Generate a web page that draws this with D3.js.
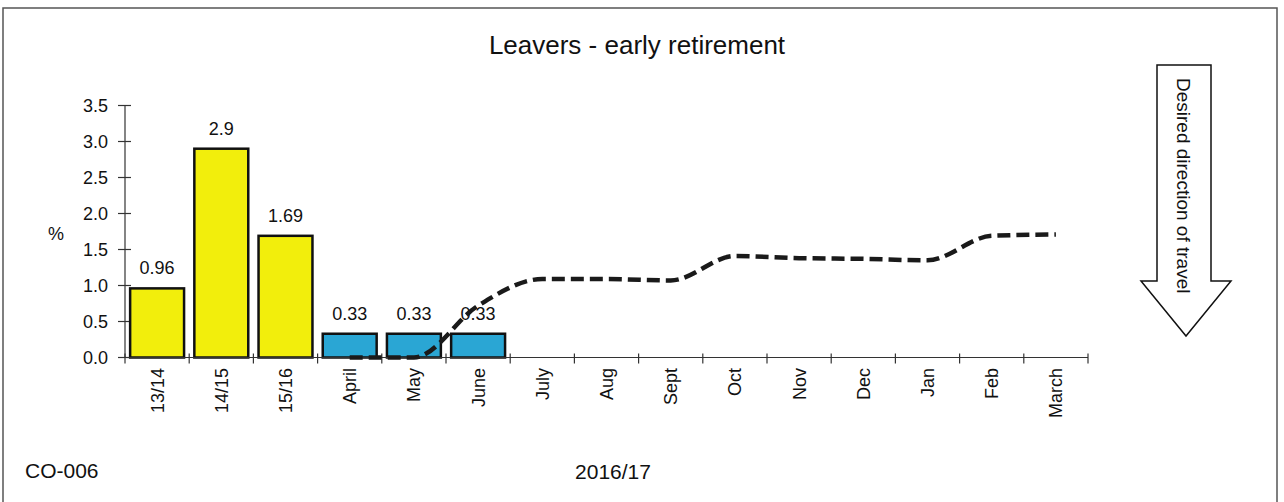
<!DOCTYPE html>
<html>
<head>
<meta charset="utf-8">
<script src="https://cdn.jsdelivr.net/npm/d3@7"></script>
<style>
  html, body { margin: 0; padding: 0; background: #fff; }
  svg { display: block; font-family: "Liberation Sans", Arial, sans-serif; }
</style>
</head>
<body>
<svg id="chart" width="1284" height="502"></svg>
<script>
// Categories along the x axis: three prior years, then the months of 2016/17
const categories = ["13/14", "14/15", "15/16", "April", "May", "June", "July", "Aug",
                    "Sept", "Oct", "Nov", "Dec", "Jan", "Feb", "March"];

// Actual early-retirement leavers (%)
const yearBars = [
  { cat: "13/14", value: 0.96 },
  { cat: "14/15", value: 2.9 },
  { cat: "15/16", value: 1.69 }
];
const monthBars = [
  { cat: "April", value: 0.33 },
  { cat: "May", value: 0.33 },
  { cat: "June", value: 0.33 }
];

// Comparison line (dashed), monthly
const lineMonths = ["April", "May", "June", "July", "Aug", "Sept", "Oct", "Nov", "Dec", "Jan", "Feb", "March"];
const lineValues = [0, 0, 0.72, 1.09, 1.09, 1.07, 1.41, 1.38, 1.37, 1.35, 1.69, 1.71];

const yTicks = [0, 0.5, 1.0, 1.5, 2.0, 2.5, 3.0, 3.5];

const svg = d3.select("#chart");

// Page frame
svg.append("path")
  .attr("d", "M3,520 L3,8 L1277,8 L1277,520")
  .attr("fill", "none")
  .attr("stroke", "#555")
  .attr("stroke-width", 1.5);

const x = d3.scaleBand().domain(categories).range([125, 1088]).paddingInner(0.16).paddingOuter(0.08);
const y = d3.scaleLinear().domain([0, 3.5]).range([357.5, 105.5]);
const bandStep = x.step();
const axisLeft = 125, axisRight = 1088;

// Title
svg.append("text")
  .attr("x", 637).attr("y", 54)
  .attr("text-anchor", "middle")
  .attr("font-size", 26)
  .attr("fill", "#111")
  .text("Leavers - early retirement");

// Y axis
const yAxis = svg.append("g");
yAxis.append("line")
  .attr("x1", axisLeft).attr("x2", axisLeft)
  .attr("y1", y(3.5)).attr("y2", y(0))
  .attr("stroke", "#333").attr("stroke-width", 1.2);
yAxis.selectAll("line.tick").data(yTicks).join("line")
  .attr("class", "tick")
  .attr("x1", axisLeft - 7).attr("x2", axisLeft + 6)
  .attr("y1", d => y(d)).attr("y2", d => y(d))
  .attr("stroke", "#333").attr("stroke-width", 1.2);
yAxis.selectAll("text").data(yTicks).join("text")
  .attr("x", 108).attr("y", d => y(d))
  .attr("dy", "0.36em")
  .attr("text-anchor", "end")
  .attr("font-size", 18)
  .attr("fill", "#111")
  .text(d => d3.format(".1f")(d));

svg.append("text")
  .attr("x", 56).attr("y", 240)
  .attr("text-anchor", "middle")
  .attr("font-size", 18)
  .attr("fill", "#111")
  .text("%");

// Bars
function drawBars(data, fill) {
  const g = svg.append("g");
  g.selectAll("rect").data(data).join("rect")
    .attr("x", d => x(d.cat))
    .attr("y", d => y(d.value))
    .attr("width", x.bandwidth())
    .attr("height", d => y(0) - y(d.value))
    .attr("fill", fill)
    .attr("stroke", "#111")
    .attr("stroke-width", 2.5);
  g.selectAll("text").data(data).join("text")
    .attr("x", d => x(d.cat) + x.bandwidth() / 2)
    .attr("y", d => y(d.value) - 14)
    .attr("text-anchor", "middle")
    .attr("font-size", 18)
    .attr("fill", "#111")
    .text(d => d.value);
}
drawBars(yearBars, "#f2ee0c");
drawBars(monthBars, "#2aa6d4");

// X axis
const xAxis = svg.append("g");
xAxis.append("line")
  .attr("x1", axisLeft).attr("x2", axisRight)
  .attr("y1", y(0)).attr("y2", y(0))
  .attr("stroke", "#333").attr("stroke-width", 1.2);
const boundaries = d3.range(categories.length + 1).map(i => axisLeft + i * bandStep);
xAxis.selectAll("line.tick").data(boundaries).join("line")
  .attr("class", "tick")
  .attr("x1", d => d).attr("x2", d => d)
  .attr("y1", y(0) - 4).attr("y2", y(0) + 6)
  .attr("stroke", "#333").attr("stroke-width", 1.2);
xAxis.selectAll("text").data(categories).join("text")
  .attr("transform", d => `translate(${x(d) + x.bandwidth() / 2},368) rotate(-90)`)
  .attr("dy", "0.36em")
  .attr("text-anchor", "end")
  .attr("font-size", 18)
  .attr("fill", "#111")
  .text(d => d);

// Dashed comparison line
const line = d3.line()
  .x((d, i) => x(lineMonths[i]) + x.bandwidth() / 2)
  .y(d => y(d))
  .curve(d3.curveMonotoneX);
svg.append("path")
  .datum(lineValues)
  .attr("d", line)
  .attr("fill", "none")
  .attr("stroke", "#1a1a1a")
  .attr("stroke-width", 4.5)
  .attr("stroke-dasharray", "13,6");

// Direction-of-travel arrow
const arrow = [[1157, 65], [1211, 65], [1211, 281], [1231, 281], [1186, 336], [1141, 281], [1157, 281]];
svg.append("path")
  .attr("d", d3.line()(arrow) + "Z")
  .attr("fill", "#fff")
  .attr("stroke", "#111")
  .attr("stroke-width", 1.5);
svg.append("text")
  .attr("transform", "translate(1184,78) rotate(90)")
  .attr("dy", "0.36em")
  .attr("text-anchor", "start")
  .attr("font-size", 19)
  .attr("fill", "#111")
  .text("Desired direction of travel");

// Footer labels
svg.append("text")
  .attr("x", 25).attr("y", 478)
  .attr("font-size", 21)
  .attr("fill", "#111")
  .text("CO-006");
svg.append("text")
  .attr("x", 613).attr("y", 479)
  .attr("text-anchor", "middle")
  .attr("font-size", 21)
  .attr("fill", "#111")
  .text("2016/17");
</script>
</body>
</html>
